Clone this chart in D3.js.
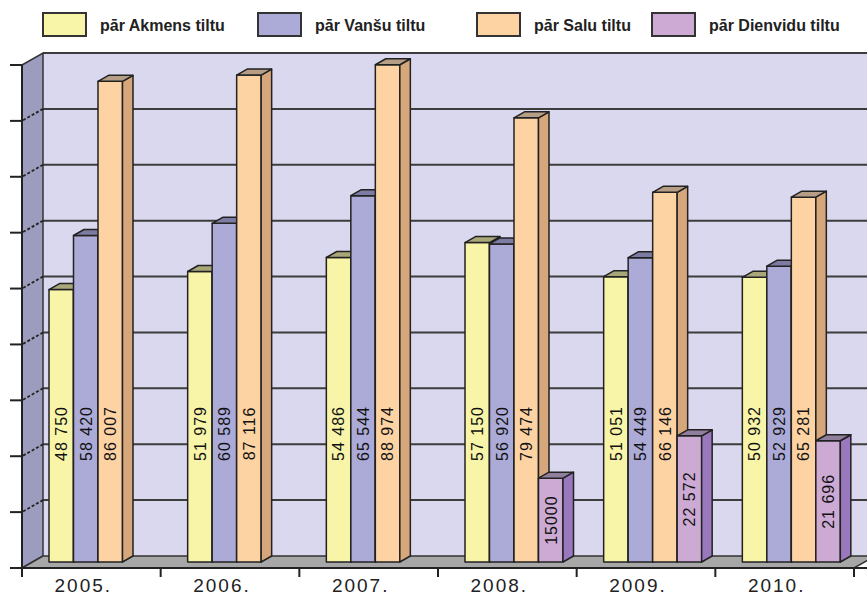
<!DOCTYPE html>
<html>
<head>
<meta charset="utf-8">
<script src="https://cdn.jsdelivr.net/npm/d3@7"></script>
<style>
  body { margin: 0; background: #fff; }
  svg { display: block; overflow: hidden; }
</style>
</head>
<body>
<div id="chart"></div>
<script>
// data
const years = ["2005.", "2006.", "2007.", "2008.", "2009.", "2010."];
const seriesNames = ["pār Akmens tiltu", "pār Vanšu tiltu", "pār Salu tiltu", "pār Dienvidu tiltu"];
const akmens = [48750, 51979, 54486, 57150, 51051, 50932];
const vansu = [58420, 60589, 65544, 56920, 54449, 52929];
const salu = [86007, 87116, 88974, 79474, 66146, 65281];
const dienvidu = [null, null, null, 15000, 22572, 21696];
const ungrouped = [15000]; // printed without the thousands space
const yMax = 90000;
const yStep = 10000;

/** CONSTANTS */
const width = 867;
const height = 597;
const colors = ["#F8F5A8", "#ACABD8", "#FDD3A4", "#CCAAD4"];
const sideColors = ["#C9C585", "#8786B6", "#D6A77A", "#9A78BE"];
const topColors = ["#A9A77A", "#7C7BA2", "#B69E86", "#8F7E9C"];
const depth = { dx: 21, dy: -12 };     // full depth of the plot box
const barDepth = { dx: 10.5, dy: -6 }; // bars stand in the back half

const series = [akmens, vansu, salu, dienvidu];

/** SCALES */
const xScale = d3.scaleBand()
  .domain(years)
  .range([22, 854])

const barScale = d3.scaleBand()
  .domain(seriesNames)
  .range([27, 27 + 98])

const yScale = d3.scaleLinear()
  .domain([0, yMax])
  .range([568, 65])

const yTicks = d3.range(0, yMax + 1, yStep);

const fmt = d3.formatLocale({ thousands: "\u00a0", grouping: [3], decimal: ",", currency: ["", ""] }).format(",");

/** DRAWING ELEMENTS */
const svg = d3.select("#chart")
  .append("svg")
  .attr("width", width)
  .attr("height", height)

const x0 = xScale.range()[0], x1 = xScale.range()[1];
const backLeft = x0 + depth.dx, backRight = x1 + depth.dx;
const yBack = v => yScale(v) + depth.dy;

// back wall
svg.append("rect")
  .attr("x", backLeft)
  .attr("y", yBack(yMax))
  .attr("width", backRight - backLeft)
  .attr("height", yBack(0) - yBack(yMax))
  .attr("fill", "#D9D8EE")

// grid lines on back wall
svg.selectAll("line.grid")
  .data(yTicks.slice(1))
  .join("line")
  .attr("class", "grid")
  .attr("x1", backLeft)
  .attr("x2", backRight)
  .attr("y1", d => yBack(d))
  .attr("y2", d => yBack(d))
  .attr("stroke", "#3c3c3c")
  .attr("stroke-width", 2)

// left wall
svg.append("polygon")
  .attr("points", [
    [x0, yScale(yMax)], [backLeft, yBack(yMax)],
    [backLeft, yBack(0)], [x0, yScale(0)]
  ].join(" "))
  .attr("fill", "#9C9CBE")
  .attr("stroke", "#333")
  .attr("stroke-width", 1.5)

// grid lines across the left wall
svg.selectAll("line.wallgrid")
  .data(yTicks.slice(1, -1))
  .join("line")
  .attr("class", "wallgrid")
  .attr("x1", backLeft)
  .attr("x2", x0)
  .attr("y1", d => yBack(d))
  .attr("y2", d => yScale(d))
  .attr("stroke", "#222")
  .attr("stroke-width", 1.8)
  .attr("stroke-dasharray", "3,2")

// floor
svg.append("polygon")
  .attr("points", [
    [backLeft, yBack(0)], [backRight, yBack(0)],
    [x1, yScale(0)], [x0, yScale(0)]
  ].join(" "))
  .attr("fill", "#A7A7A7")
  .attr("stroke", "#333")
  .attr("stroke-width", 1.5)

// bars, flattened so they are drawn left to right
const bars = [];
years.forEach((yr, i) => {
  series.forEach((s, j) => {
    if (s[i] != null) bars.push({ year: yr, key: seriesNames[j], idx: j, v: s[i] });
  });
});

const bx = d => xScale(d.year) + barScale(d.key);
const bw = barScale.bandwidth();
const by0 = yScale(0) + barDepth.dy;
const byTop = d => yScale(d.v) + barDepth.dy;

const barG = svg.selectAll("g.bar")
  .data(bars)
  .join("g")
  .attr("class", "bar")
  .attr("stroke", "#222")
  .attr("stroke-width", 1.5)
  .attr("stroke-linejoin", "round")

barG.append("rect")
  .attr("x", bx)
  .attr("y", byTop)
  .attr("width", bw)
  .attr("height", d => by0 - byTop(d))
  .attr("fill", d => colors[d.idx])

barG.append("polygon")
  .attr("points", d => {
    const x = bx(d) + bw, t = byTop(d);
    return [[x, t], [x + barDepth.dx, t + barDepth.dy], [x + barDepth.dx, by0 + barDepth.dy], [x, by0]].join(" ");
  })
  .attr("fill", d => sideColors[d.idx])

barG.append("polygon")
  .attr("points", d => {
    const x = bx(d), t = byTop(d);
    return [[x, t], [x + bw, t], [x + bw + barDepth.dx, t + barDepth.dy], [x + barDepth.dx, t + barDepth.dy]].join(" ");
  })
  .attr("fill", d => topColors[d.idx])

// value labels, rotated, sitting low in the bar
svg.selectAll("text.value")
  .data(bars)
  .join("text")
  .attr("class", "value")
  .attr("transform", d => {
    const cx = bx(d) + bw / 2;
    const cy = yScale(Math.min(d.v / 2, 23000)) + barDepth.dy;
    return `translate(${cx},${cy}) rotate(-90)`;
  })
  .attr("text-anchor", "middle")
  .attr("dy", "0.36em")
  .attr("font-family", "Liberation Sans, Arial, sans-serif")
  .attr("font-size", 16)
  .attr("letter-spacing", 1)
  .attr("fill", "#111")
  .text(d => ungrouped.includes(d.v) ? String(d.v) : fmt(d.v))

// y axis (front edge) with ticks
svg.append("line")
  .attr("x1", x0).attr("x2", x0)
  .attr("y1", yScale(yMax)).attr("y2", yScale(0))
  .attr("stroke", "#222")
  .attr("stroke-width", 2)

svg.selectAll("line.ytick")
  .data(yTicks)
  .join("line")
  .attr("class", "ytick")
  .attr("x1", x0 - 12).attr("x2", x0)
  .attr("y1", d => yScale(d)).attr("y2", d => yScale(d))
  .attr("stroke", "#222")
  .attr("stroke-width", 2)

// x axis line with boundary ticks
svg.append("line")
  .attr("x1", x0 - 12).attr("x2", width)
  .attr("y1", yScale(0)).attr("y2", yScale(0))
  .attr("stroke", "#222")
  .attr("stroke-width", 2)

svg.selectAll("line.xtick")
  .data(years.map(y => xScale(y)).concat([x1]))
  .join("line")
  .attr("class", "xtick")
  .attr("x1", d => d).attr("x2", d => d)
  .attr("y1", yScale(0)).attr("y2", yScale(0) + 9)
  .attr("stroke", "#222")
  .attr("stroke-width", 2)

svg.selectAll("text.year")
  .data(years)
  .join("text")
  .attr("class", "year")
  .attr("x", d => xScale(d) + xScale.bandwidth() / 2 - 8)
  .attr("y", 592)
  .attr("text-anchor", "middle")
  .attr("font-family", "Liberation Sans, Arial, sans-serif")
  .attr("font-size", 19)
  .attr("letter-spacing", 2)
  .attr("fill", "#222")
  .text(d => d)

// legend
const legendX = [43, 258, 477, 652];
const legend = svg.selectAll("g.legend")
  .data(seriesNames)
  .join("g")
  .attr("class", "legend")
  .attr("transform", (d, i) => `translate(${legendX[i]},13)`)

legend.append("rect")
  .attr("width", 43)
  .attr("height", 23)
  .attr("fill", (d, i) => colors[i])
  .attr("stroke", "#333")
  .attr("stroke-width", 2)

legend.append("text")
  .attr("x", 57)
  .attr("y", 18)
  .attr("font-family", "Liberation Sans, Arial, sans-serif")
  .attr("font-weight", "bold")
  .attr("font-size", 16)
  .attr("fill", "#222")
  .text(d => d)
</script>
</body>
</html>
